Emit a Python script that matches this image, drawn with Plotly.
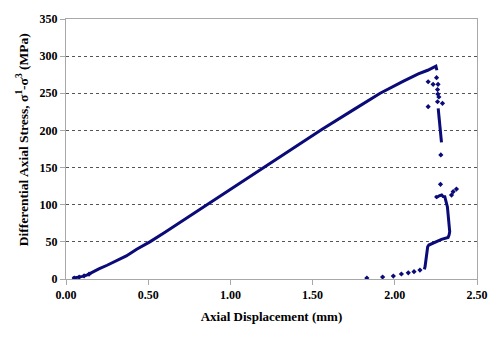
import plotly.graph_objects as go

# Main pre-peak loading curve (dense points)
curve_x = [0.04, 0.07, 0.10, 0.13, 0.165, 0.20, 0.25, 0.30, 0.367, 0.43, 0.51, 0.60, 0.67, 0.80,
           1.00, 1.20, 1.40, 1.558, 1.75, 1.911, 2.05, 2.143, 2.20, 2.25, 2.256]
curve_y = [1.2, 2.0, 3.5, 5.5, 10.0, 13.5, 18.5, 23.5, 31.0, 40.0, 50.0, 62.5, 72.7, 91.5,
           120.0, 149.0, 178.5, 201.5, 228.0, 250.0, 266.0, 276.0, 281.0, 286.5, 281.0]

# Dense post-peak drop segment
drop_x = [2.264, 2.270, 2.274, 2.280, 2.284]
drop_y = [229.7, 218.0, 207.0, 195.0, 184.0]

# Dense residual segment
resid_x = [2.245, 2.255, 2.270, 2.285, 2.294, 2.304, 2.320, 2.328, 2.334, 2.330, 2.324, 2.284,
           2.223, 2.207, 2.200, 2.194, 2.184, 2.180]
resid_y = [112.0, 110.0, 112.0, 113.0, 111.0, 110.8, 97.0, 79.0, 63.7, 59.0, 56.0, 53.4,
           48.0, 45.7, 43.5, 30.0, 16.6, 13.0]

# Scattered individual readings
dots_x = [2.254, 2.203, 2.233, 2.263, 2.260, 2.262, 2.268, 2.260, 2.290, 2.203, 2.280, 2.278,
          2.345, 2.355, 2.375, 2.153, 2.117, 2.082, 2.040, 1.991, 1.926, 1.830,
          0.05, 0.08, 0.11, 0.14]
dots_y = [271.0, 265.5, 262.0, 262.0, 255.0, 249.0, 245.0, 238.6, 236.5, 232.0, 167.0, 127.5,
          113.0, 117.5, 121.0, 12.0, 9.9, 8.3, 6.7, 4.0, 2.7, 1.3,
          1.3, 2.5, 4.2, 6.5]

x_ticks = [0, 0.5, 1.0, 1.5, 2.0, 2.5]
y_ticks = [0, 50, 100, 150, 200, 250, 300, 350]

y_title = "Differential Axial Stress, σ<sup>1</sup>-σ<sup>3</sup> (MPa)"
x_title = "Axial Displacement (mm)"

NAVY = "#0a0a78"
fig = go.Figure()
fig.add_trace(go.Scatter(x=curve_x, y=curve_y, mode="lines", line=dict(color=NAVY, width=3)))
fig.add_trace(go.Scatter(x=drop_x, y=drop_y, mode="lines", line=dict(color=NAVY, width=3)))
fig.add_trace(go.Scatter(x=resid_x, y=resid_y, mode="lines", line=dict(color=NAVY, width=3)))
fig.add_trace(go.Scatter(x=dots_x, y=dots_y, mode="markers",
                         marker=dict(color=NAVY, size=4, symbol="diamond")))

SERIF = "Liberation Serif"
tickf = dict(family=SERIF, size=12, color="#000000", weight="bold")
titlef = dict(family=SERIF, size=13, color="#000000", weight="bold")
fig.update_layout(
    width=500, height=340, showlegend=False,
    margin=dict(l=66, r=21, t=19, b=61),
    paper_bgcolor="white", plot_bgcolor="white",
    font=dict(family=SERIF, size=12, color="#000000"),
    xaxis=dict(range=[0, 2.5], tickvals=x_ticks, tickformat=".2f", showgrid=False,
               showline=True, linecolor="#a8a8a8", linewidth=1, mirror=True,
               ticks="outside", ticklen=5, tickcolor="#a8a8a8", zeroline=False,
               tickfont=tickf,
               title=dict(text=x_title, standoff=10, font=titlef)),
    yaxis=dict(range=[0, 350], tickvals=y_ticks, showgrid=True, gridcolor="#555555",
               griddash="dot", gridwidth=1,
               showline=True, linecolor="#a8a8a8", linewidth=1, mirror=True,
               ticks="outside", ticklen=5, tickcolor="#a8a8a8", zeroline=False,
               tickfont=tickf),
    annotations=[dict(text=y_title, textangle=-90, xref="paper", yref="paper",
                      x=(22 - 66) / 413, y=(279 - 140) / 260, xanchor="center", yanchor="middle",
                      showarrow=False, font=dict(family=SERIF, size=13.5, color="#000000",
                                                 weight="bold"))],
)
fig.write_html("out.html")
